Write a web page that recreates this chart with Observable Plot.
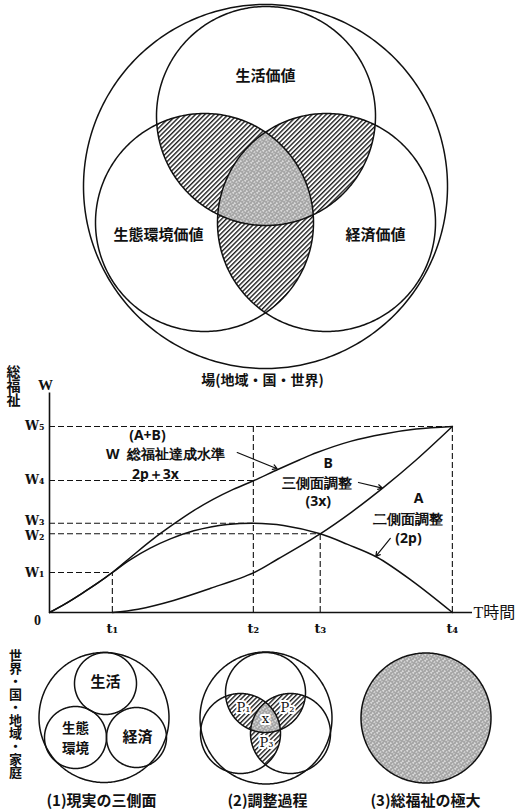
<!DOCTYPE html>
<html><head><meta charset="utf-8">
<script src="https://cdn.jsdelivr.net/npm/d3@7"></script>
<script src="https://cdn.jsdelivr.net/npm/@observablehq/plot@0.6"></script>
<style>
body{margin:0;background:#fff;}
#page{position:relative;width:519px;height:811px;overflow:hidden;background:#fff;}
#page svg{position:absolute;left:0;top:0;background:transparent !important;}
</style></head><body><div id="page"></div>
<script>
// ---------------- chart data ----------------
const tLabels = ["t₁", "t₂", "t₃", "t₄"];
const tValues = [15.6, 50.6, 67.2, 100];
const wLabels = ["W₁", "W₂", "W₃", "W₄", "W₅"];
const wValues = [21.5, 42.3, 48, 71, 100];
// total welfare W = A + B
const curveWT = [0, 4, 8, 12, 15.6, 20.6, 25.6, 30.6, 35.6, 40.6, 45.6, 50.6, 56.8, 62, 66.4, 74.7, 83, 91, 100];
const curveWV = [0, 4.8, 10.2, 15.9, 21.5, 30.5, 39.3, 47.2, 54.5, 60.8, 66.2, 70.8, 77, 82, 86, 92, 96, 98.6, 100];
// A : two-side adjustment (2p)
const curveAT = [0, 4, 8, 12, 15.6, 20, 25, 30, 35.8, 40, 44.1, 50.6, 58.1, 67.2, 74, 81.3, 90, 100];
const curveAV = [0, 4.8, 10.2, 15.9, 21.5, 28.3, 34.6, 39.6, 43.9, 46, 47.3, 48, 46.8, 42.3, 36.6, 29.7, 17, 0];
// B : three-side adjustment (3x)
const curveBT = [15.6, 22, 30.8, 40, 50.6, 56.8, 67.2, 75, 83, 91, 100];
const curveBV = [0, 1.8, 6.5, 13, 21.3, 28.9, 42.3, 54, 67.4, 82, 100];

// dashed guides: W level -> extends to which t ; t -> up to which W
const hGuideTo = [0, 2, 1, 1, 3];   // W1→t1, W2→t3, W3→t2, W4→t2, W5→t4
const vGuideTo = [0, 4, 1, 4];      // t1→W1, t2→W5, t3→W2, t4→W5

// ---------------- layout (page pixels / label nudges) ----------------
const wLabelNudge = [0, 2.4, -2.4, 0, 0];
const bigVenn = {
  outer: {cx: 265, cy: 186, r: 182},
  circles: [{cx: 265.5, cy: 115.5, r: 109.5}, {cx: 204, cy: 222, r: 109}, {cx: 326, cy: 222, r: 109}]
};
const venn1 = {
  outer: {cx: 103.5, cy: 717, r: 65},
  circles: [{cx: 105, cy: 683, r: 31}, {cx: 75, cy: 737, r: 31}, {cx: 136, cy: 737, r: 30}]
};
const venn2 = {
  outer: {cx: 265.5, cy: 717.5, r: 66},
  circles: [{cx: 265, cy: 692, r: 40}, {cx: 240, cy: 733, r: 40}, {cx: 290, cy: 733, r: 40}]
};
const venn3 = {cx: 425.5, cy: 717.5, r: 65};

const VERT_1 = "世界・国・地域・家庭";
const VERT_2 = "総福祉";

function circlePts(c, n = 360) {
  return d3.range(n + 1).map(k => {
    const a = 2 * Math.PI * k / n;
    return [c.cx + c.r * Math.cos(a), c.cy + c.r * Math.sin(a)];
  });
}
function regionPts(cs, n = 1440) {
  const pts = [];
  cs.forEach((c, i) => {
    circlePts(c, n).forEach(p => {
      if (cs.every((o, j) => j === i || Math.hypot(p[0] - o.cx, p[1] - o.cy) <= o.r + 1e-6)) pts.push(p);
    });
  });
  const mx = d3.mean(pts, p => p[0]), my = d3.mean(pts, p => p[1]);
  pts.sort((a, b) => Math.atan2(a[1] - my, a[0] - mx) - Math.atan2(b[1] - my, b[0] - mx));
  pts.push(pts[0]);
  return pts;
}

const JP = "'Noto Sans CJK JP', sans-serif";
const SERIF = "'Liberation Serif', 'DejaVu Serif', 'Noto Sans CJK JP', serif";
const SUB = "'DejaVu Serif', serif";

function vennMarks(v, sw) {
  const c = v.circles;
  return [
    Plot.line(regionPts([c[0], c[1]]), {x: d => d[0], y: d => d[1], fill: "url(#hatch)", stroke: "none"}),
    Plot.line(regionPts([c[0], c[2]]), {x: d => d[0], y: d => d[1], fill: "url(#hatch)", stroke: "none"}),
    Plot.line(regionPts([c[1], c[2]]), {x: d => d[0], y: d => d[1], fill: "url(#hatch)", stroke: "none"}),
    Plot.line(regionPts(c), {x: d => d[0], y: d => d[1], fill: "url(#stip)", stroke: "none"}),
    ...[v.outer, ...c].map(ci => Plot.line(circlePts(ci), {x: d => d[0], y: d => d[1], stroke: "#111", strokeWidth: sw}))
  ];
}

const bg = Plot.plot({
  width: 519, height: 811, margin: 0,
  x: {domain: [0, 519], range: [0, 519], axis: null},
  y: {domain: [0, 811], range: [0, 811], axis: null},
  style: {background: "transparent", overflow: "visible"},
  marks: [
    ...vennMarks(bigVenn, 1.5),
    Plot.text([
      {s: "生活価値", x: 265, y: 76},
      {s: "生態環境価値", x: 158, y: 235},
      {s: "経済価値", x: 375, y: 235}
    ], {x: "x", y: "y", text: "s", fontSize: 15, fontFamily: JP, fontWeight: "bold", fill: "#111"}),
    Plot.text(["場(地域・国・世界)"], {x: 262, y: 380, text: d => d, fontSize: 14, fontFamily: JP, fontWeight: "bold", fill: "#111"}),
    // diagram 1
    ...[venn1.outer, ...venn1.circles].map(ci => Plot.line(circlePts(ci), {x: d => d[0], y: d => d[1], stroke: "#111", strokeWidth: 1.5})),
    Plot.text([
      {s: "生活", x: 105, y: 682},
      {s: "経済", x: 137, y: 737}
    ], {x: "x", y: "y", text: "s", fontSize: 15, fontFamily: JP, fontWeight: "bold", fill: "#111"}),
    Plot.text(["生態\n環境"], {x: 75, y: 736, text: d => d, fontSize: 13.5, fontFamily: JP, fontWeight: "bold", fill: "#111", lineHeight: 1.45}),
    // diagram 2
    ...vennMarks(venn2, 1.5),
    Plot.text([
      {s: "P₁", x: 243, y: 707},
      {s: "P₂", x: 287, y: 707},
      {s: "x", x: 265, y: 718},
      {s: "P₃", x: 266, y: 742}
    ], {x: "x", y: "y", text: "s", fontSize: 13, fontFamily: SUB, fill: "#111", stroke: "white", strokeWidth: 4, paintOrder: "stroke"}),
    // diagram 3
    Plot.line(circlePts(venn3), {x: d => d[0], y: d => d[1], fill: "url(#stip)", stroke: "#111", strokeWidth: 1.5}),
    // captions
    Plot.text([
      {s: "(1)現実の三側面", x: 101, y: 801},
      {s: "(2)調整過程", x: 267, y: 801},
      {s: "(3)総福祉の極大", x: 425, y: 801}
    ], {x: "x", y: "y", text: "s", fontSize: 15, fontFamily: JP, fontWeight: "bold", fill: "#111"}),
    Plot.text([VERT_1], {x: 15, y: 709, text: d => d, fontSize: 13, fontFamily: JP, fontWeight: "bold", fill: "#111"})
  ]
});

// patterns
const defs = d3.select(bg).insert("defs", ":first-child");
const hp = defs.append("pattern").attr("id", "hatch").attr("width", 3.3).attr("height", 3.3)
  .attr("patternUnits", "userSpaceOnUse").attr("patternTransform", "rotate(45)");
hp.append("rect").attr("width", 3.3).attr("height", 3.3).attr("fill", "white");
hp.append("line").attr("x1", 0.7).attr("y1", 0).attr("x2", 0.7).attr("y2", 3.3).attr("stroke", "#111").attr("stroke-width", 1.3);
const sp = defs.append("pattern").attr("id", "stip").attr("width", 6).attr("height", 6).attr("patternUnits", "userSpaceOnUse");
sp.append("rect").attr("width", 6).attr("height", 6).attr("fill", "#c2c2c2");
[[0,0],[3,1],[1,3],[4,4],[5,2],[2,5]].forEach(([x, y]) => sp.append("rect").attr("x", x).attr("y", y).attr("width", 1).attr("height", 1).attr("fill", "#555"));
[[2,1],[5,5],[0,4],[4,0]].forEach(([x, y]) => sp.append("rect").attr("x", x).attr("y", y).attr("width", 1).attr("height", 1).attr("fill", "#f0f0f0"));

// ---------------- the chart ----------------
const X_END = 105, Y_TOP = 118;
const lineW = curveWT.map((t, i) => ({t, v: curveWV[i]}));
const lineA = curveAT.map((t, i) => ({t, v: curveAV[i]}));
const lineB = curveBT.map((t, i) => ({t, v: curveBV[i]}));
const hGuides = wValues.map((w, i) => ({w, to: tValues[hGuideTo[i]]}));
const vGuides = tValues.map((t, i) => ({t, to: wValues[vGuideTo[i]]}));
const wTicks = wValues.map((w, i) => ({w, label: wLabels[i], nudge: wLabelNudge[i]}));

const notes = [
  {s: "(A+B)", x: 24.3, y: 95.4, f: SERIF},
  {s: "W  総福祉達成水準", x: 28.8, y: 85.0, f: JP},
  {s: "2p＋3x", x: 26.3, y: 74.3, f: SERIF},
  {s: "B", x: 69.2, y: 80.3, f: SERIF},
  {s: "三側面調整", x: 66.5, y: 69.1, f: JP},
  {s: "(3x)", x: 66.7, y: 59.4, f: SERIF},
  {s: "A", x: 91.6, y: 61.3, f: SERIF},
  {s: "二側面調整", x: 89.1, y: 49.9, f: JP},
  {s: "(2p)", x: 89.1, y: 39.6, f: SERIF}
];
const arrows = [
  {x1: 46.6, y1: 86, x2: 56.5, y2: 77.3},
  {x1: 76.7, y1: 69.9, x2: 82.6, y2: 66.9},
  {x1: 84.6, y1: 39.8, x2: 81, y2: 30.2}
];

const chart = Plot.plot({
  width: 519, height: 300,
  marginLeft: 49, marginRight: 47, marginTop: 37.5, marginBottom: 43,
  x: {domain: [0, X_END], axis: null},
  y: {domain: [0, Y_TOP], axis: null},
  style: {background: "transparent", overflow: "visible"},
  marks: [
    Plot.ruleY(hGuides, {y: "w", x1: 0, x2: "to", stroke: "#111", strokeWidth: 1.1, strokeDasharray: "6,3"}),
    Plot.ruleX(vGuides, {x: "t", y1: 0, y2: "to", stroke: "#111", strokeWidth: 1.1, strokeDasharray: "6,3"}),
    Plot.ruleX([0], {y1: 0, y2: Y_TOP, stroke: "#111", strokeWidth: 1.6}),
    Plot.ruleY([0], {x1: 0, x2: X_END, stroke: "#111", strokeWidth: 1.6}),
    Plot.line(lineW, {x: "t", y: "v", curve: "catmull-rom", stroke: "#111", strokeWidth: 1.5}),
    Plot.line(lineA, {x: "t", y: "v", curve: "catmull-rom", stroke: "#111", strokeWidth: 1.5}),
    Plot.line(lineB, {x: "t", y: "v", curve: "catmull-rom", stroke: "#111", strokeWidth: 1.5}),
    Plot.arrow(arrows, {x1: "x1", y1: "y1", x2: "x2", y2: "y2", stroke: "#111", strokeWidth: 1.2, headLength: 6}),
    Plot.text(notes, {x: "x", y: "y", text: "s", fontFamily: d => d.f, fontSize: 14, fontWeight: "bold", fill: "#111"}),
    ...wTicks.map(d => Plot.text([d], {x: 0, y: "w", text: "label", dx: -5, dy: d.nudge, textAnchor: "end", fontSize: 12.5, fontFamily: SUB, fontWeight: "bold", fill: "#111"})),
    Plot.text(tValues, {x: d => d, y: 0, text: (d, i) => tLabels[i], dy: 16, fontSize: 13, fontFamily: SUB, fontWeight: "bold", fill: "#111"}),
    Plot.text(["0"], {x: 0, y: 0, text: d => d, dx: -12, dy: 8, fontSize: 14, fontFamily: SERIF, fontWeight: "bold", fill: "#111"}),
    Plot.text(["T時間"], {x: X_END, y: 0, text: d => d, dx: 1, textAnchor: "start", fontSize: 16, fontFamily: SERIF, fill: "#111"}),
    Plot.text(["W"], {x: 0, y: Y_TOP, text: d => d, dx: -4, dy: -8, fontSize: 15, fontFamily: SERIF, fontWeight: "bold", fill: "#111"}),
    Plot.text([VERT_2], {x: 0, y: Y_TOP, text: d => d, dx: -36, dy: -12, fontSize: 14, fontFamily: JP, fontWeight: "bold", fill: "#111"})
  ]
});
chart.style.top = "355px";

// vertical (top-to-bottom) Japanese labels
[bg, chart].forEach(svg => {
  d3.select(svg).selectAll("text").filter(function () {
    return this.textContent === VERT_1 || this.textContent === VERT_2;
  }).attr("writing-mode", "tb").style("writing-mode", "vertical-rl").style("text-orientation", "upright");
});

const page = document.getElementById("page");
page.appendChild(bg);
page.appendChild(chart);
</script></body></html>
